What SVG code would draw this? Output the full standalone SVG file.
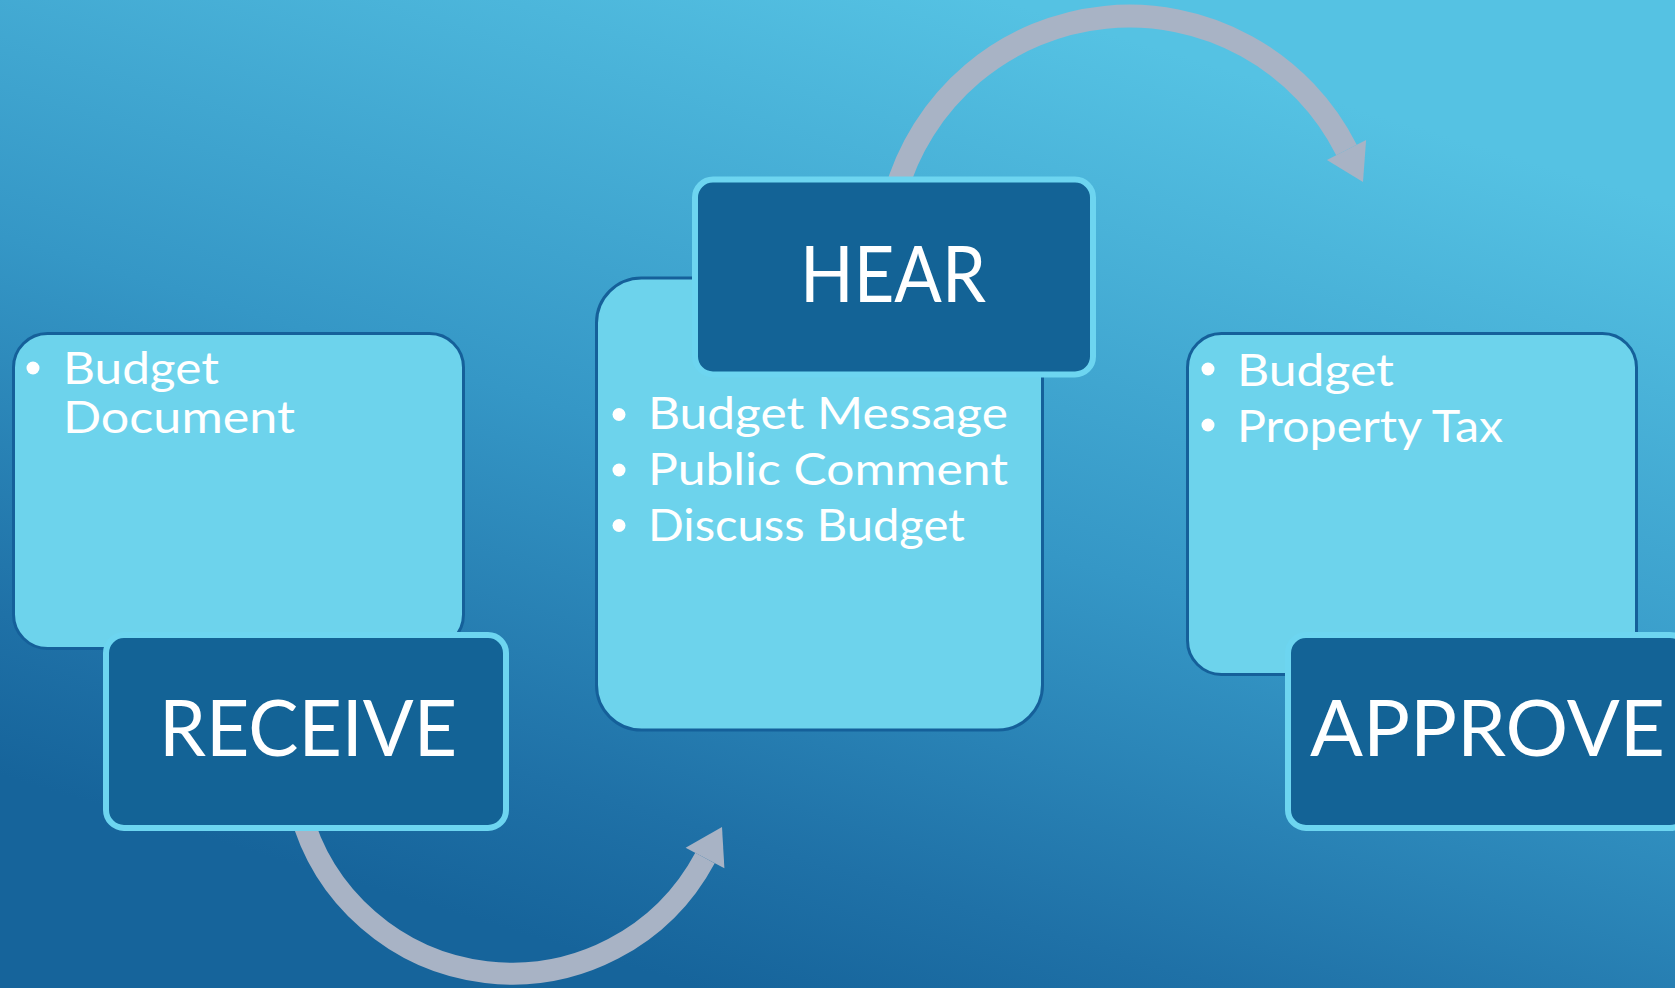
<svg xmlns="http://www.w3.org/2000/svg" width="1675" height="988" viewBox="0 0 1675 988">
  <defs>
    <linearGradient id="bg" gradientUnits="userSpaceOnUse" x1="1000" y1="0" x2="700" y2="988">
      <stop offset="0" stop-color="#55c2e3"/>
      <stop offset="0.5" stop-color="#3597c6"/>
      <stop offset="0.85" stop-color="#1f71a7"/>
      <stop offset="1" stop-color="#16649b"/>
    </linearGradient>
    <style>
      .body { fill: #6dd3ec; stroke: #15609a; stroke-width: 3; }
      .title { fill: #136396; stroke: #6dd5f0; stroke-width: 6; }
      .ttl { font-family: Lato, "Liberation Sans", sans-serif; fill: #ffffff; font-size: 78px; text-anchor: start; }
      .txt { font-family: Lato, "Liberation Sans", sans-serif; fill: #ffffff; font-size: 44px; }
      .dot { fill: #ffffff; }
      .arc { fill: none; stroke: #a8b3c5; }
      .head { fill: #a8b3c5; }
    </style>
  </defs>
  <rect x="0" y="0" width="1675" height="988" fill="url(#bg)"/>

  <g id="connectors">
    <path class="arc" stroke-width="22" d="M300,810 A219,219 0 0 0 705,858"/>
    <polygon class="head" points="722,827 685.6,847.7 724.4,868.3"/>
    <path class="arc" stroke-width="23" d="M895,195 A243,243 0 0 1 1346.5,150"/>
    <polygon class="head" points="1363,182 1366.1,140.1 1326.9,159.9"/>
  </g>

  <g id="receive">
    <rect class="body" x="13.5" y="333.5" width="450" height="315" rx="34"/>
    <circle class="dot" cx="33" cy="368" r="6.5"/>
    <text class="txt" x="63" y="384" textLength="156" lengthAdjust="spacingAndGlyphs">Budget</text>
    <text class="txt" x="63" y="433" textLength="232" lengthAdjust="spacingAndGlyphs">Document</text>
    <rect class="title" x="106" y="635" width="400" height="193" rx="18"/>
    <text class="ttl" x="159" y="756" textLength="298" lengthAdjust="spacingAndGlyphs">RECEIVE</text>
  </g>

  <g id="hear">
    <rect class="body" x="596.5" y="278" width="446" height="452" rx="45"/>
    <circle class="dot" cx="619" cy="414.5" r="6.5"/>
    <circle class="dot" cx="619" cy="470" r="6.5"/>
    <circle class="dot" cx="619" cy="525.5" r="6.5"/>
    <text class="txt" x="648" y="429" textLength="360" lengthAdjust="spacingAndGlyphs">Budget Message</text>
    <text class="txt" x="648" y="485" textLength="360" lengthAdjust="spacingAndGlyphs">Public Comment</text>
    <text class="txt" x="648" y="541" textLength="317" lengthAdjust="spacingAndGlyphs">Discuss Budget</text>
    <rect class="title" x="695" y="179.5" width="398" height="195" rx="18"/>
    <text class="ttl" x="800" y="302" textLength="186" lengthAdjust="spacingAndGlyphs">HEAR</text>
  </g>

  <g id="approve">
    <rect class="body" x="1187.5" y="333.5" width="449" height="341" rx="34"/>
    <circle class="dot" cx="1208" cy="369" r="6.5"/>
    <circle class="dot" cx="1208" cy="425" r="6.5"/>
    <text class="txt" x="1237" y="386" textLength="157" lengthAdjust="spacingAndGlyphs">Budget</text>
    <text class="txt" x="1237" y="442" textLength="266" lengthAdjust="spacingAndGlyphs">Property Tax</text>
    <rect class="title" x="1288" y="635" width="400" height="193" rx="18"/>
    <text class="ttl" x="1310" y="756" textLength="355" lengthAdjust="spacingAndGlyphs">APPROVE</text>
  </g>
</svg>
